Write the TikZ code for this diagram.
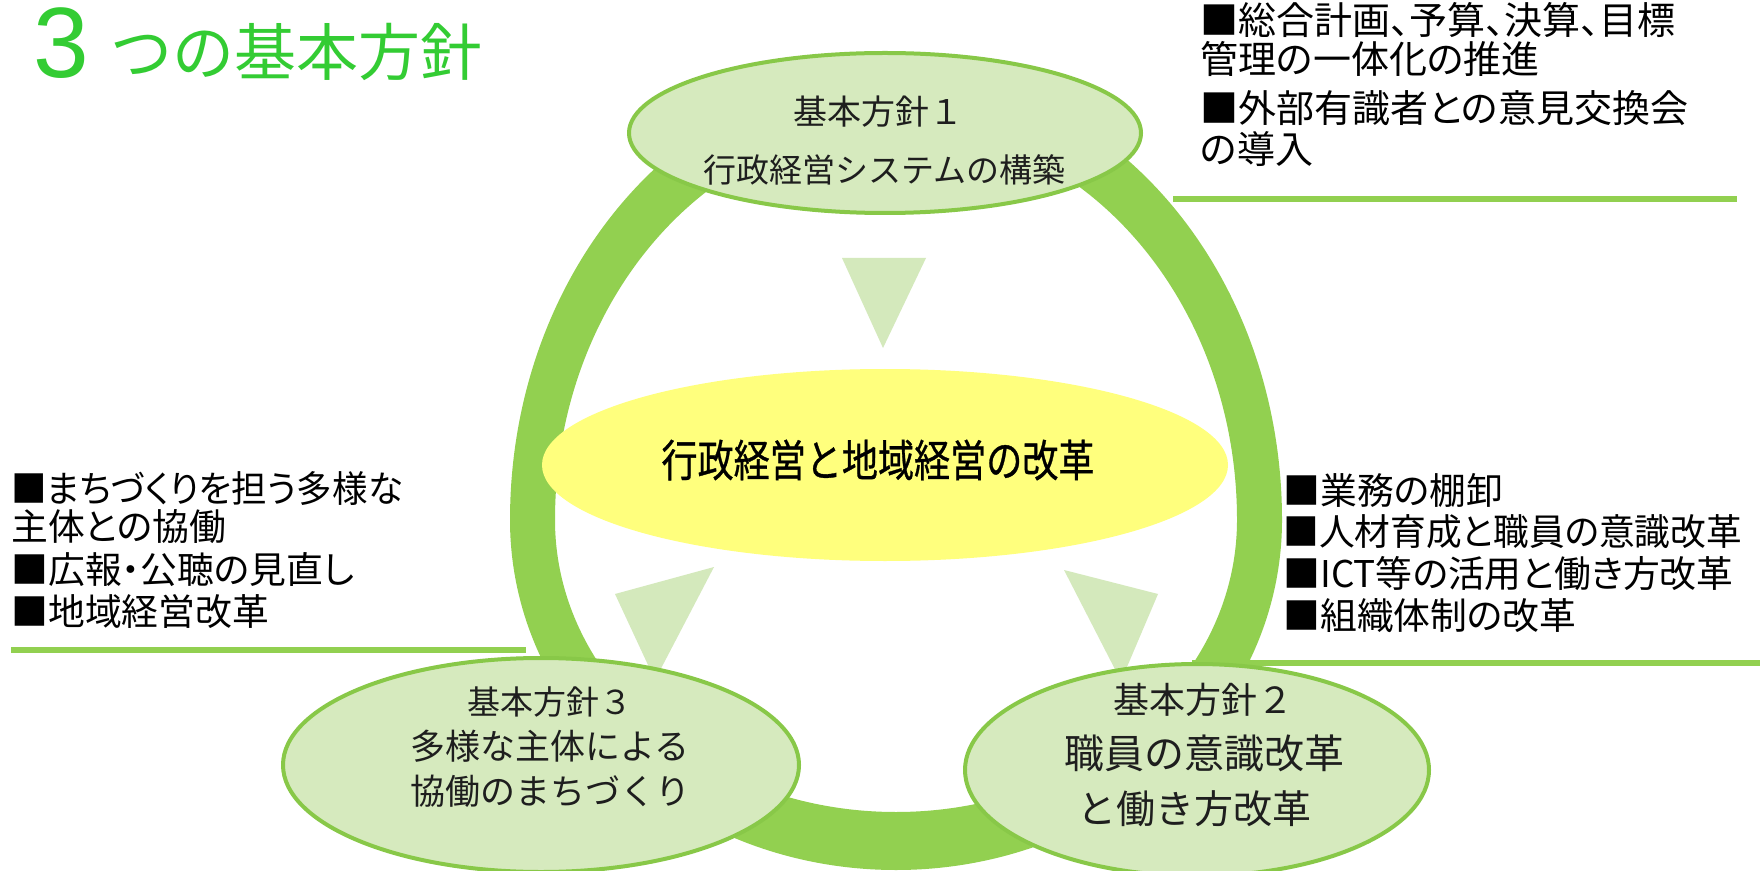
\documentclass[tikz,border=0pt]{standalone}
\usepackage{fontspec}
\setmainfont{Noto Sans CJK JP}
\newfontfamily\propjp[RawFeature=+palt]{Noto Sans CJK JP}
\newfontfamily\corejp[FakeBold=0.8]{Noto Sans CJK JP}
\newfontfamily\latinsans{Liberation Sans}
\usetikzlibrary{shapes.geometric}
\definecolor{ringgreen}{RGB}{146,208,80}
\definecolor{edgegreen}{RGB}{136,200,72}
\definecolor{palegreen}{RGB}{214,234,190}
\definecolor{trigreen}{RGB}{212,233,188}
\definecolor{yel}{RGB}{255,255,125}
\definecolor{titlegreen}{RGB}{51,204,51}
\definecolor{txt}{RGB}{30,30,30}
\tikzset{
  listtext/.style={anchor=west, inner sep=0pt, text=black, font=\propjp\fontsize{18.4pt}{20pt}\selectfont},
  toplist/.style={anchor=west, inner sep=0pt, text=black, font=\propjp\fontsize{19pt}{20pt}\selectfont},
  ovaltext/.style={inner sep=0pt, text=txt},
  policy/.style={ellipse, draw=edgegreen, line width=2pt, fill=palegreen, inner sep=0pt},
  sepline/.style={draw=ringgreen, line width=3pt},
  pointer/.style={fill=trigreen},
}
\begin{document}
\begin{tikzpicture}[x=0.5pt,y=-0.5pt]
\useasboundingbox (0,0) rectangle (1760,871);
\fill[white] (0,0) rectangle (1760,871);

% title
\node[anchor=base west, inner sep=0pt, text=titlegreen, font=\latinsans\fontsize{50pt}{50pt}\selectfont] (t3) at (33,78) {3};
\node[anchor=base west, inner sep=0pt, text=titlegreen, font=\fontsize{31pt}{31pt}\selectfont] (tt) at (110,76) {つの基本方針};

% ring (egg-shaped band)
\fill[ringgreen, even odd rule]
  (510,520) arc[start angle=180, end angle=360, x radius=386, y radius=450]
            arc[start angle=0, end angle=180, x radius=386, y radius=350] -- cycle
  (555,520) arc[start angle=180, end angle=360, x radius=341, y radius=395]
            arc[start angle=0, end angle=180, x radius=341, y radius=292] -- cycle;

% separator lines
\coordinate (la) at (11,650);  \coordinate (lb) at (526,650);
\coordinate (ta) at (1173,199); \coordinate (tb) at (1737,199);
\coordinate (ra) at (1192,663); \coordinate (rb) at (1760,663);
\draw[sepline] (la) -- (lb);
\draw[sepline] (ta) -- (tb);
\draw[sepline] (ra) -- (rb);

% pointers
\fill[pointer] (842,258) -- (926,258) -- (883,348) -- cycle;
\fill[pointer] (615,594) -- (714,567) -- (655,680) -- cycle;
\fill[pointer] (1064,570) -- (1158,594) -- (1121,681) -- cycle;

% centre
\node[ellipse, fill=yel, minimum width=343pt, minimum height=96pt, inner sep=0pt] (core) at (885,465) {};
\node[ovaltext, text=black, xscale=0.82, font=\corejp\fontsize{22pt}{22pt}\selectfont] (coret) at (878,460) {行政経営と地域経営の改革};

% policies
\node[policy, minimum width=256pt, minimum height=80pt] (p1) at (885,133) {};
\node[ovaltext, font=\fontsize{17pt}{17pt}\selectfont] (p1a) at (878,112) {基本方針１};
\node[ovaltext, font=\fontsize{16.5pt}{17pt}\selectfont] (p1b) at (884,170) {行政経営システムの構築};

\node[policy, minimum width=258pt, minimum height=107pt] (p3) at (541,765) {};
\node[ovaltext, font=\fontsize{16.5pt}{17pt}\selectfont] (p3a) at (550,702) {基本方針３};
\node[ovaltext, font=\fontsize{17.5pt}{17pt}\selectfont] (p3b) at (550,746) {多様な主体による};
\node[ovaltext, font=\fontsize{17.5pt}{17pt}\selectfont] (p3c) at (550,791) {協働のまちづくり};

\node[policy, minimum width=232pt, minimum height=106pt] (p2) at (1197,770) {};
\node[ovaltext, font=\fontsize{18pt}{17pt}\selectfont] (p2a) at (1203,700) {基本方針２};
\node[ovaltext, font=\fontsize{20pt}{17pt}\selectfont] (p2b) at (1204,753) {職員の意識改革};
\node[ovaltext, font=\fontsize{19.5pt}{17pt}\selectfont] (p2c) at (1194,809) {と働き方改革};

% lists
\node[toplist] (a1) at (1200,20) {■総合計画、予算、決算、目標};
\node[toplist] (a2) at (1200,59) {管理の一体化の推進};
\node[toplist] (a3) at (1200,108) {■外部有識者との意見交換会};
\node[toplist] (a4) at (1200,149) {の導入};

\node[listtext, xscale=0.965] (b1) at (11,489) {■まちづくりを担う多様な};
\node[listtext] (b2) at (11,527) {主体との協働};
\node[listtext] (b3) at (11,570) {■広報・公聴の見直し};
\node[listtext] (b4) at (11,612) {■地域経営改革};

\node[listtext] (c1) at (1283,490) {■業務の棚卸};
\node[listtext, xscale=0.97] (c2) at (1283,532) {■人材育成と職員の意識改革};
\node[listtext] (c3) at (1283,574) {■ICT等の活用と働き方改革};
\node[listtext] (c4) at (1283,616) {■組織体制の改革};
\end{tikzpicture}
\end{document}
